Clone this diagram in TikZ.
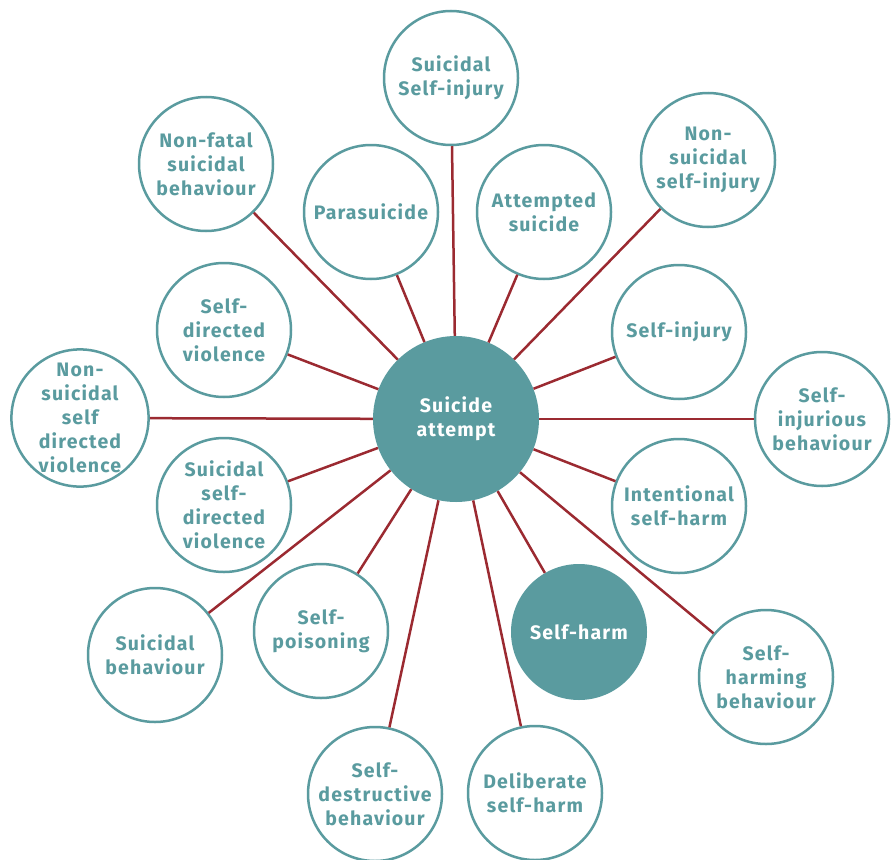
\documentclass[tikz,border=0pt]{standalone}
\usepackage{fontspec}
\setmainfont{Fira Sans}[LetterSpace=6.0]
\definecolor{circteal}{HTML}{5A9B9F}
\definecolor{linkred}{HTML}{9B2A31}
\tikzset{
  term/.style={circle, draw=circteal, line width=2.5pt, fill=white,
    minimum size=134pt, inner sep=0pt, align=center, text=circteal,
    font=\bfseries\fontsize{19.5}{24}\selectfont},
  hub/.style={circle, fill=circteal, inner sep=0pt, align=center,
    text=white, font=\bfseries\fontsize{19.5}{24}\selectfont},
  link/.style={draw=linkred, line width=2.5pt}
}

\begin{document}
\begin{tikzpicture}[x=1pt, y=-1pt]
  \useasboundingbox (0,0) rectangle (891,859);

  % the hub and its terms
  \node[hub, minimum size=166pt] (attempt) at (456,419) {Suicide\\attempt};
  \node[hub, minimum size=136pt] (selfharm) at (579,632) {Self-harm};

  \node[term] (suicidalinjury) at (451,78) {Suicidal\\Self-injury};
  \node[term] (nonfatal) at (206,164) {Non-fatal\\suicidal\\behaviour};
  \node[term] (parasuicide) at (371,212) {Parasuicide};
  \node[term] (attempted) at (544,212) {Attempted\\suicide};
  \node[term] (nsinjury) at (708,160) {Non-\\suicidal\\self-injury};
  \node[term] (sdviolence) at (224,330) {Self-\\directed\\violence};
  \node[term] (selfinjury) at (679,332) {Self-injury};
  \node[term] (nsviolence) at (80,418) {Non-\\suicidal\\self\\directed\\violence};
  \node[term] (injurious) at (822,419) {Self-\\injurious\\behaviour};
  \node[term] (ssdviolence) at (224,505) {Suicidal\\self-\\directed\\violence};
  \node[term] (intentional) at (679,506) {Intentional\\self-harm};
  \node[term] (suicidalbeh) at (155,655) {Suicidal\\behaviour};
  \node[term] (poisoning) at (321,631) {Self-\\poisoning};
  \node[term] (harming) at (766,677) {Self-\\harming\\behaviour};
  \node[term] (destructive) at (375,794) {Self-\\destructive\\behaviour};
  \node[term] (deliberate) at (535,793) {Deliberate\\self-harm};

  % spokes
  \foreach \t in {suicidalinjury, nonfatal, parasuicide, attempted, nsinjury,
      sdviolence, selfinjury, nsviolence, injurious, ssdviolence, intentional,
      suicidalbeh, poisoning, harming, destructive, deliberate, selfharm}
    \draw[link] (attempt) -- (\t);
\end{tikzpicture}
\end{document}
